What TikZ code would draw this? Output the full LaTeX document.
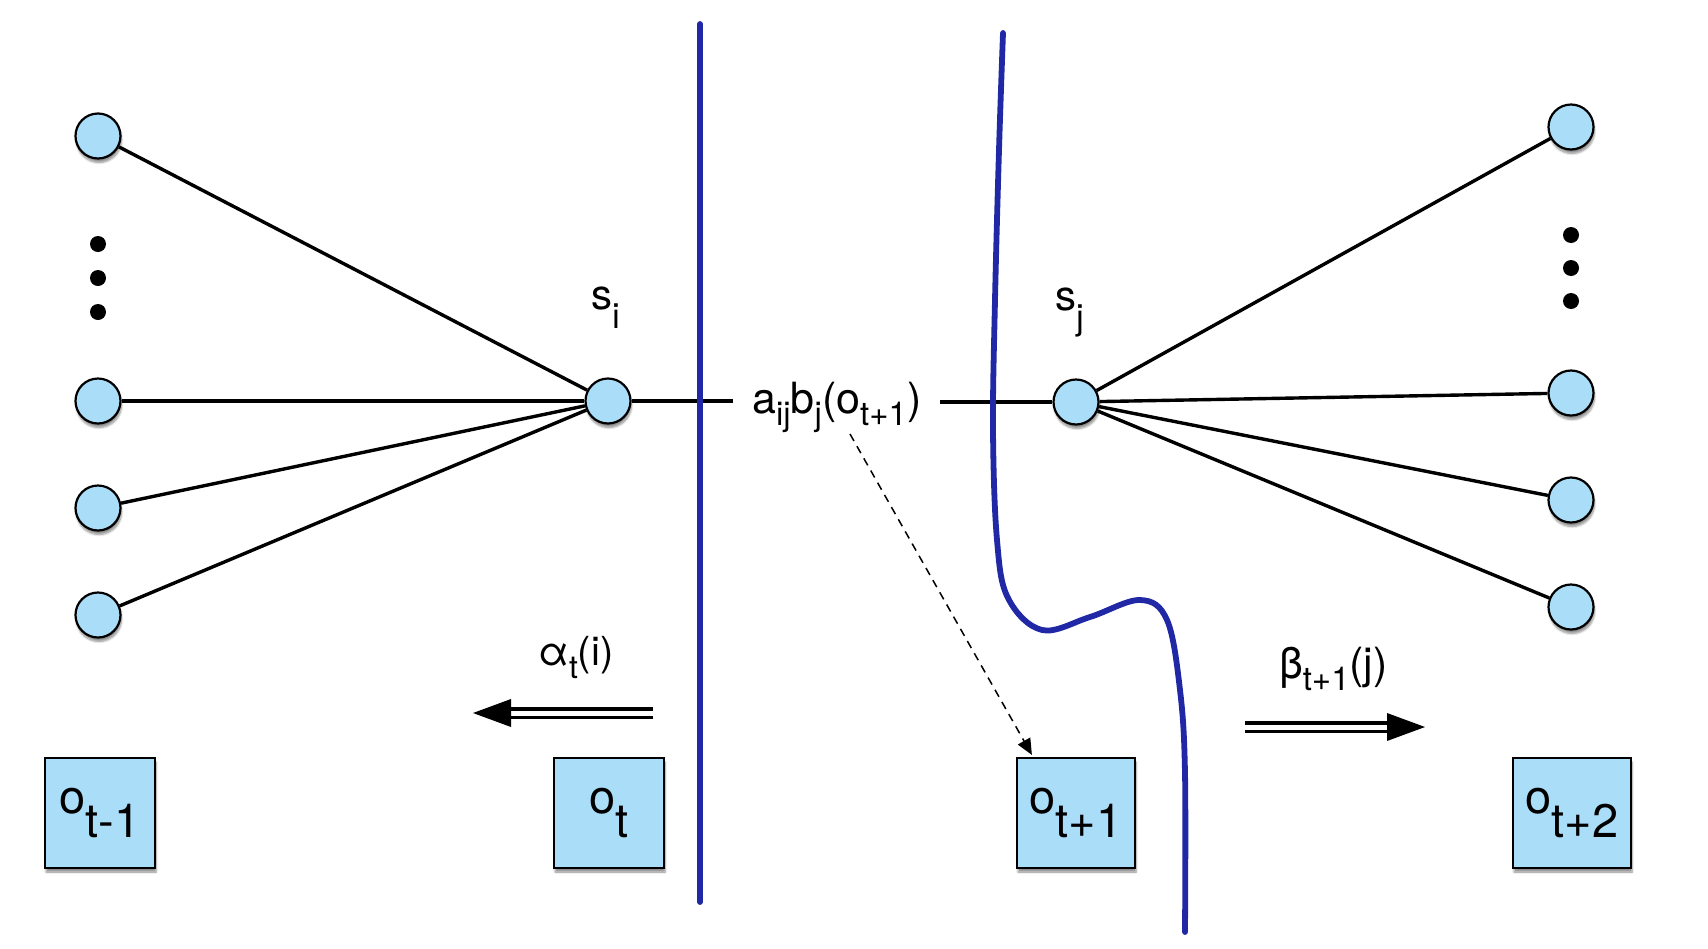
\documentclass[tikz,border=0pt]{standalone}
\usepackage{fontspec}
\setmainfont{TeX Gyre Heros}
\usetikzlibrary{arrows.meta,shadows.blur}
\definecolor{nodefill}{RGB}{170,221,248}
\definecolor{cutblue}{RGB}{32,40,165}
\newcommand\SB[3]{\raisebox{-#1}{\fontsize{#2}{#2}\selectfont #3}}
\begin{document}
\begin{tikzpicture}[x=1pt,y=-1pt,
  shade/.style={blur shadow={shadow xshift=1pt, shadow yshift=-4pt, shadow blur steps=6, shadow opacity=45}},
  state/.style={circle, draw, line width=2.2pt, fill=nodefill, minimum size=45pt, inner sep=0pt, shade},
  obs/.style={rectangle, draw, line width=2.2pt, fill=nodefill, minimum height=110pt, inner sep=0pt, shade, font=\fontsize{47}{47}\selectfont},
  edge/.style={line width=3.4pt},
  dotnode/.style={circle, fill=black, minimum size=16pt, inner sep=0pt},
  cut/.style={draw=cutblue, line width=5.8pt, line cap=round},
  lab/.style={inner sep=0pt, anchor=base west},
  dbl/.style={double=white, double distance=5pt, line width=3.3pt},
  head/.style={fill=black}]
\useasboundingbox (0,0) rectangle (1708,948);

% left column
\node[state] (l1) at (98,136) {};
\node[dotnode] (ld1) at (98,244) {};
\node[dotnode] (ld2) at (98,278) {};
\node[dotnode] (ld3) at (98,312) {};
\node[state] (l2) at (98,401) {};
\node[state] (l3) at (98,508) {};
\node[state] (l4) at (98,615) {};

% right column
\node[state] (r1) at (1571,127) {};
\node[dotnode] (rd1) at (1571,235) {};
\node[dotnode] (rd2) at (1571,268) {};
\node[dotnode] (rd3) at (1571,301) {};
\node[state] (r2) at (1571,393) {};
\node[state] (r3) at (1571,500) {};
\node[state] (r4) at (1571,607) {};

% central states
\node[state] (si) at (608,401) {};
\node[state] (sj) at (1076,402) {};
\node[lab, font=\fontsize{42}{42}\selectfont] (lsi) at (591,309) {s\SB{19pt}{35}{i}};
\node[lab, font=\fontsize{42}{42}\selectfont] (lsj) at (1055,310) {s\SB{19pt}{35}{j}};

% edges
\draw[edge] (l1) -- (si);
\draw[edge] (l2) -- (si);
\draw[edge] (l3) -- (si);
\draw[edge] (l4) -- (si);
\draw[edge] (sj) -- (r1);
\draw[edge] (sj) -- (r2);
\draw[edge] (sj) -- (r3);
\draw[edge] (sj) -- (r4);

% middle transition label
\node[lab, font=\fontsize{43}{43}\selectfont] (trans) at (752,413)
  {a\SB{12pt}{33}{ij}b\SB{12pt}{33}{j}(o\SB{12pt}{33}{t+1})};
\coordinate (mL) at (733,401);
\coordinate (mR) at (940,402);
\draw[edge] (si) -- (mL);
\draw[edge] (mR) -- (sj);

% observation boxes
\node[obs, minimum width=110pt] (o0) at (100,813) {o\SB{24pt}{47}{t-1}};
\node[obs, minimum width=110pt] (o1) at (609,813) {o\SB{24pt}{47}{t}};
\node[obs, minimum width=118pt] (o2) at (1076,813) {o\SB{24pt}{47}{t+1}};
\node[obs, minimum width=118pt] (o3) at (1572,813) {o\SB{24pt}{47}{t+2}};

% dashed arrow
\coordinate (dstart) at (850,434);
\draw[line width=1.5pt, dash pattern=on 8pt off 6pt, -{Triangle[length=16pt,width=14pt]}]
  (dstart) -- ([xshift=16pt,yshift=2pt]o2.north west);

% cuts
\coordinate (c1top) at (700,24);
\coordinate (c1bot) at (700,902);
\draw[cut] (c1top) -- (c1bot);
\draw[cut] plot[smooth, tension=0.6] coordinates {(1003,33) (999,150) (995,300) (993,430) (997,540) (1008,598) (1042,630) (1090,617) (1140,600) (1167,620) (1180,690) (1185,773) (1185,932)};

% alpha arrow
\node[lab, font=\fontsize{40}{40}\selectfont] (alab) at (538,665) {α\SB{13pt}{32}{t}(i)};
\coordinate (aS) at (653,713);
\coordinate (aB) at (509,713);
\coordinate (aT) at (473,713);
\draw[dbl] (aS) -- (aB);
\fill[head] (aT) -- (511,699) -- (511,727) -- cycle;

% beta arrow
\node[lab, font=\fontsize{43}{43}\selectfont] (blab) at (1279,678) {β\SB{12pt}{33}{t+1}(j)};
\coordinate (bS) at (1245,727);
\coordinate (bB) at (1389,727);
\coordinate (bT) at (1425,727);
\draw[dbl] (bS) -- (bB);
\fill[head] (bT) -- (1387,713) -- (1387,741) -- cycle;
\end{tikzpicture}
\end{document}
